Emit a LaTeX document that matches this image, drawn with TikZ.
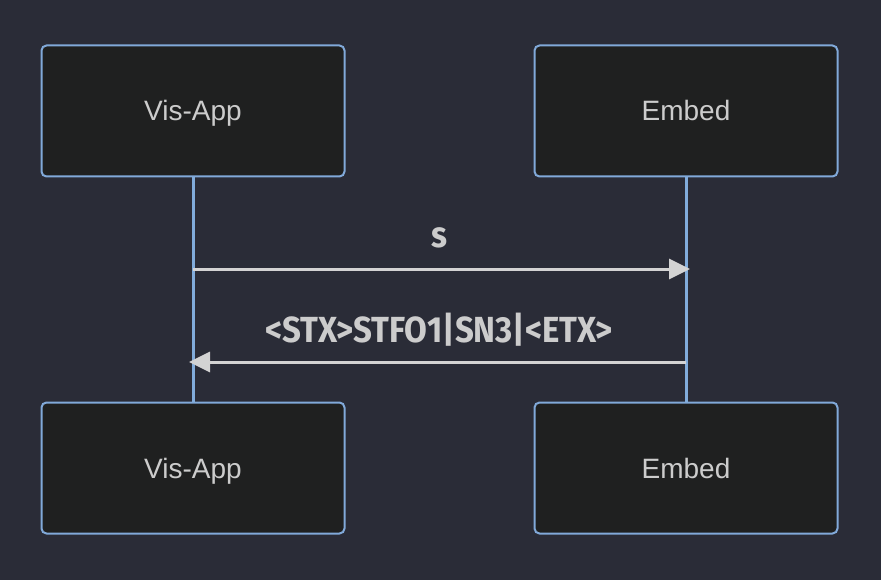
\documentclass[tikz,border=0pt]{standalone}
\usepackage{fontspec}
\setmainfont{Liberation Sans}
\newfontfamily\labelfont{Fira Sans}
\usetikzlibrary{arrows.meta}
\definecolor{bg}{HTML}{2A2C37}
\definecolor{boxfill}{HTML}{1F2020}
\definecolor{boxline}{HTML}{81A9D9}
\definecolor{lifeline}{HTML}{81ACDB}
\definecolor{msg}{HTML}{D3D3D3}
\definecolor{txt}{HTML}{CCCCCC}
\begin{document}
\begin{tikzpicture}[x=1pt,y=-1pt,
  actor/.style={draw=boxline,line width=2pt,fill=boxfill,rounded corners=5pt,
    minimum width=303pt,minimum height=131pt,inner sep=0pt,
    text height=24pt,text depth=4pt,
    text=txt,font=\fontsize{28}{30}\selectfont},
  lline/.style={draw=lifeline,line width=3pt},
  msgline/.style={draw=msg,line width=3pt,-{Triangle[length=21pt,width=20pt]}},
  msglabel/.style={text=txt,font=\labelfont\bfseries\fontsize{33}{36}\selectfont,inner sep=0pt}]
\fill[bg] (0,0) rectangle (881,580);
\useasboundingbox (0,0) rectangle (881,580);
\node[actor] (a1) at (193,111) {Vis-App};
\node[actor] (b1) at (686,111) {Embed};
\node[actor] (a2) at (193,468) {Vis-App};
\node[actor] (b2) at (686,468) {Embed};
\draw[lline] (a1.south) -- (a2.north);
\draw[lline] (b1.south) -- (b2.north);
\coordinate (m1s) at (193,269);
\coordinate (m1e) at (690,269);
\coordinate (m2s) at (686,362);
\coordinate (m2e) at (189,362);
\draw[msgline] (m1s) -- (m1e);
\draw[msgline] (m2s) -- (m2e);
\node[msglabel] (l1) at (439,238) {\scalebox{1}[1.1]{s}};
\node[msglabel] (l2) at (439,330) {\scalebox{1}[1.1]{<STX>STFO1|SN3|<ETX>}};
\end{tikzpicture}
\end{document}
